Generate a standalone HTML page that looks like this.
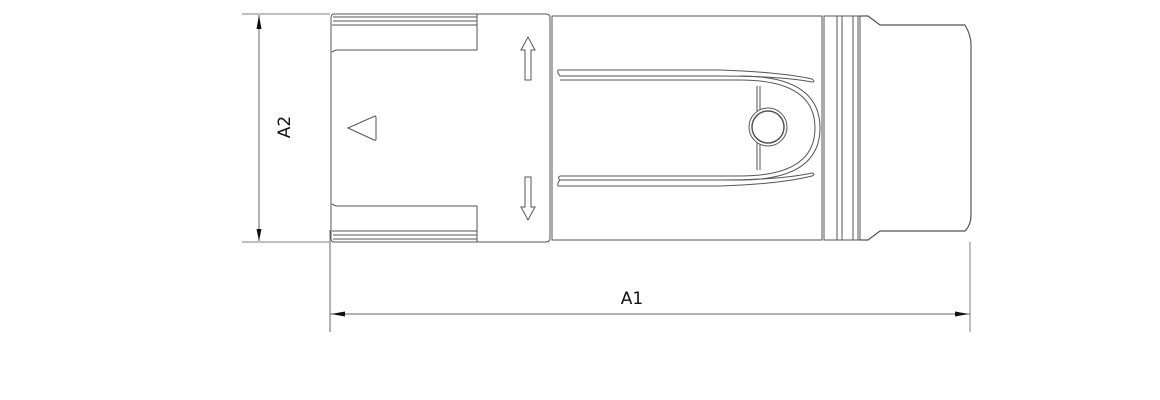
<!DOCTYPE html>
<html><head><meta charset="utf-8"><style>body{margin:0;background:#fff}svg{display:block}</style></head><body>
<svg width="1160" height="400" viewBox="0 0 1160 400" xmlns="http://www.w3.org/2000/svg" fill="none" stroke="#555" stroke-width="1">
<g stroke="#aaa" stroke-width="1.5">
<line x1="242" y1="14" x2="330" y2="14"/>
<line x1="242" y1="242" x2="330" y2="242"/>
<line x1="970" y1="242" x2="970" y2="332"/>
</g>
<line x1="330" y1="230" x2="330" y2="332" stroke="#666"/>
<line x1="259" y1="15" x2="259" y2="241" stroke="#666"/>
<line x1="330" y1="314" x2="970" y2="314" stroke="#666"/>
<g fill="#111" stroke="none">
<polygon points="259,15 256.5,29 261.5,29"/>
<polygon points="259,241 256.5,229 261.5,229"/>
<polygon points="331,314 345,311.5 345,316.5"/>
<polygon points="969,314 955,311.5 955,316.5"/>
</g>
<text x="632" y="304" font-family="DejaVu Sans, sans-serif" font-size="17" fill="#111" stroke="none" text-anchor="middle">A1</text>
<text transform="translate(290,127) rotate(-90)" font-family="DejaVu Sans, sans-serif" font-size="17" fill="#111" stroke="none" text-anchor="middle">A2</text>
<path d="M334,14 H546 Q550,14 550,18 V238 Q550,242 546,242 H334 Q331,242 331,238 V18 Q331,14 334,14 Z"/>
<path d="M333,17 H477 M333,21 H477 M332,25 H477 V50 H336 L332,52"/>
<path d="M333,239 H477 M333,235 H477 M332,231 H477 V206 H336 L332,204"/>
<line x1="477" y1="14" x2="477" y2="25"/><line x1="477" y1="231" x2="477" y2="242"/>
<path d="M348,128 L375,116 Q376,116 376,118 V139 Q376,141 374,140 Z"/>
<path d="M525,80 V50 H521 L528,37 L535,50 H531 V80 Z"/>
<path d="M525,177 V207 H521 L528,220 L535,207 H531 V177 Z"/>
<path d="M552,16 H822 V240 H552 Z"/>
<path d="M558,70 H720 Q780,72 812,79 Q816,82 812,82 Q780,76 720,76 H560 Q557,73 558,70"/>
<path d="M560,80 H740 Q815,80 815,128 Q815,176 740,176 H560 Q557,178 560,180 H740 Q820,180 820,128 Q820,76 740,76" />
<path d="M558,186 H720 Q780,184 812,176 Q816,174 812,173 Q780,180 720,180 H560 Q557,183 558,186"/>
<line x1="757" y1="86" x2="757" y2="170"/><line x1="760" y1="86" x2="760" y2="170"/>
<circle cx="768" cy="127" r="19" fill="#fff"/>
<circle cx="768" cy="127" r="16" stroke-width="1.5"/>
<path d="M824,16 H860 V240 H824 Z"/>
<path d="M837,16 V240 M842,16 V240 M853,16 V240 M858,16 V240"/>
<path d="M860,16 H868 L880,25 H965 Q971,35 971,45 V215 Q971,225 965,231 H880 L868,240 H860" stroke-width="1.2"/>
</svg>
</body></html>
